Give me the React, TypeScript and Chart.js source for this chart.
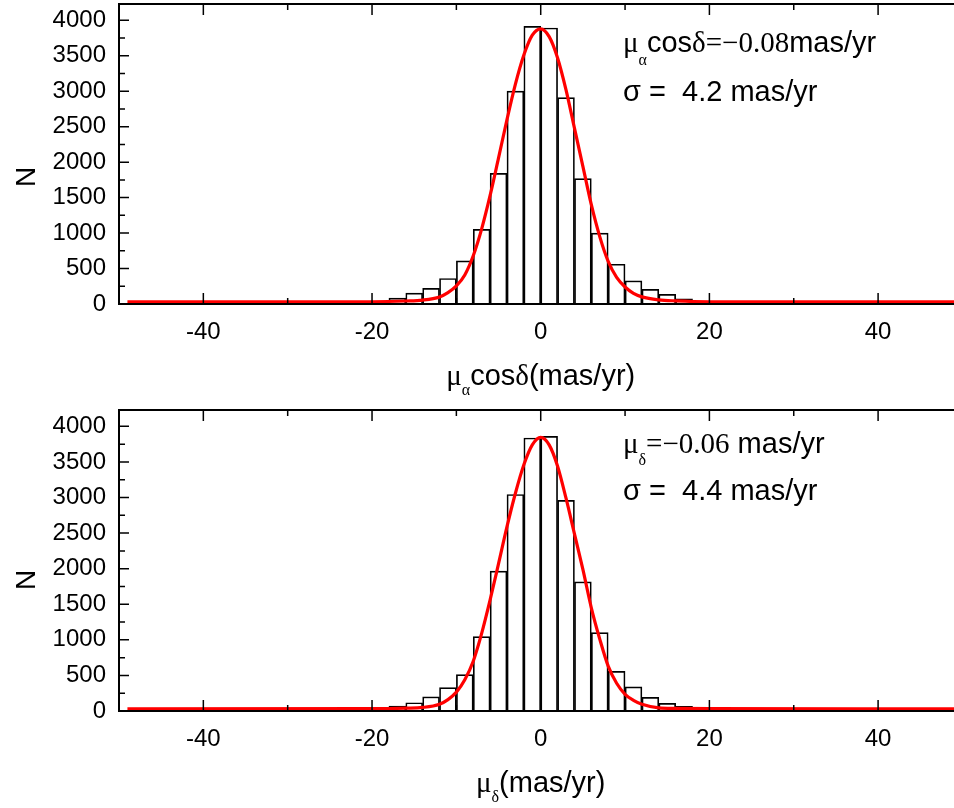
import React, { useEffect, useRef } from 'react';
import { Chart, registerables } from 'chart.js';

Chart.register(...registerables);

// ---- data ----
const binCenters = [-17, -15, -13, -11, -9, -7, -5, -3, -1, 1, 3, 5, 7, 9, 11, 13, 15, 17];
const countsRA = [84, 154, 220, 360, 608, 1053, 1843, 3003, 3916, 3892, 2910, 1768, 1001, 561, 327, 206, 136, 74];
const countsDec = [70, 116, 200, 330, 511, 1045, 1965, 3043, 3837, 3861, 2959, 1816, 1101, 557, 339, 191, 107, 64];

const fitX = [-49, -20, -16, -14, -12, -11, -10, -9, -8, -7, -6, -5, -4, -3, -2, -1, 0, 1, 2, 3, 4, 5, 6, 7, 8, 9, 10, 11, 12, 14, 16, 20, 50];
const fitRA = [30, 32, 42, 55, 100, 160, 255, 410, 680, 1060, 1530, 2060, 2600, 3100, 3510, 3790, 3880, 3770, 3470, 3020, 2480, 1940, 1400, 950, 600, 375, 240, 150, 100, 58, 44, 32, 30];
const fitDec = [30, 32, 40, 50, 95, 160, 265, 440, 700, 1090, 1560, 2070, 2590, 3060, 3460, 3740, 3845, 3740, 3440, 2990, 2490, 1990, 1450, 1010, 630, 390, 235, 150, 95, 45, 37, 32, 30];

const xMajorTicks = [-40, -20, 0, 20, 40];
const xMinorTicks = [-30, -10, 10, 30];
const yMajorTicks = [0, 500, 1000, 1500, 2000, 2500, 3000, 3500, 4000];
const yMinorTicks = [250, 750, 1250, 1750, 2250, 2750, 3250, 3750];

const SANS = "'Liberation Sans', Arial, sans-serif";
const SERIF = "'Liberation Serif', 'Times New Roman', serif";

type Part = { t: string; f: string; dy?: number };

function drawRich(ctx: CanvasRenderingContext2D, x: number, y: number, parts: Part[], align: 'left' | 'center' = 'left') {
  let w = 0;
  for (const p of parts) {
    ctx.font = p.f;
    w += ctx.measureText(p.t).width;
  }
  let cx = align === 'center' ? x - w / 2 : x;
  ctx.textAlign = 'left';
  ctx.textBaseline = 'alphabetic';
  for (const p of parts) {
    ctx.font = p.f;
    ctx.fillText(p.t, cx, y + (p.dy || 0));
    cx += ctx.measureText(p.t).width;
  }
}

interface PanelCfg {
  counts: number[];
  fit: number[];
  padTop: number;
  xScaleHeight: number;
  lines: { x: number; y: number; parts: Part[] }[];
  title: Part[];
  titleY: number;
  nY: number;
}

function makePlugin(cfg: PanelCfg) {
  return {
    id: 'frameAndText',
    afterDatasetsDraw(chart: any) {
      const { ctx, chartArea: a, scales } = chart;
      const xs = scales.x;
      const ys = scales.y;
      ctx.save();
      ctx.strokeStyle = '#000';
      ctx.lineWidth = 2;
      ctx.beginPath();
      ctx.moveTo(a.right, a.top);
      ctx.lineTo(a.left, a.top);
      ctx.lineTo(a.left, a.bottom);
      ctx.lineTo(a.right, a.bottom);
      ctx.stroke();
      ctx.lineWidth = 1.5;
      ctx.beginPath();
      const xt = (vals: number[], len: number) => {
        for (const v of vals) {
          const px = xs.getPixelForValue(v);
          ctx.moveTo(px, a.bottom);
          ctx.lineTo(px, a.bottom - len);
          ctx.moveTo(px, a.top);
          ctx.lineTo(px, a.top + len);
        }
      };
      const yt = (vals: number[], len: number) => {
        for (const v of vals) {
          const py = ys.getPixelForValue(v);
          ctx.moveTo(a.left, py);
          ctx.lineTo(a.left + len, py);
        }
      };
      xt(xMajorTicks, 11);
      xt(xMinorTicks, 6);
      yt(yMajorTicks, 10);
      yt(yMinorTicks, 6);
      ctx.stroke();
      ctx.restore();
    },
    afterDraw(chart: any) {
      const { ctx, scales } = chart;
      ctx.save();
      ctx.fillStyle = '#000';
      for (const l of cfg.lines) drawRich(ctx, l.x, l.y, l.parts);
      drawRich(ctx, scales.x.getPixelForValue(0), cfg.titleY, cfg.title, 'center');
      ctx.translate(27, cfg.nY);
      ctx.rotate(-Math.PI / 2);
      ctx.font = `28px ${SANS}`;
      ctx.textAlign = 'center';
      ctx.textBaseline = 'middle';
      ctx.fillText('N', 0, 0);
      ctx.restore();
    },
  };
}

function buildConfig(cfg: PanelCfg): any {
  const tickFont = { family: SANS, size: 24 };
  return {
    type: 'bar',
    data: {
      datasets: [
        {
          type: 'line',
          data: fitX.map((x, i) => ({ x, y: cfg.fit[i] })),
          borderColor: '#ff0000',
          borderWidth: 3.2,
          pointRadius: 0,
          cubicInterpolationMode: 'monotone',
          fill: false,
        },
        {
          type: 'bar',
          data: binCenters.map((x, i) => ({ x, y: cfg.counts[i] })),
          backgroundColor: '#ffffff',
          borderColor: '#000000',
          borderWidth: 1.7,
          barPercentage: 1,
          categoryPercentage: 1,
        },
      ],
    },
    options: {
      responsive: false,
      animation: false,
      devicePixelRatio: 1,
      layout: { padding: { top: cfg.padTop, left: 0, right: 0, bottom: 0 } },
      plugins: { legend: { display: false }, tooltip: { enabled: false }, title: { display: false } },
      scales: {
        x: {
          type: 'linear',
          min: -50,
          max: 49,
          offset: false,
          grid: { display: false, drawTicks: false, offset: false },
          border: { display: false },
          ticks: {
            font: tickFont,
            color: '#000',
            padding: 14,
            maxRotation: 0,
            autoSkip: false,
            callback: (v: number) => String(v),
          },
          afterBuildTicks: (s: any) => {
            s.ticks = xMajorTicks.map((v) => ({ value: v }));
          },
          afterFit: (s: any) => {
            s.height = cfg.xScaleHeight;
            s.paddingLeft = 0;
            s.paddingRight = 0;
          },
        },
        y: {
          type: 'linear',
          min: 0,
          max: 4230,
          grid: { display: false, drawTicks: false },
          border: { display: false },
          ticks: { font: tickFont, color: '#000', padding: 13, callback: (v: number) => String(v) },
          afterBuildTicks: (s: any) => {
            s.ticks = yMajorTicks.map((v) => ({ value: v }));
          },
          afterFit: (s: any) => {
            s.width = 119;
            s.paddingTop = 0;
            s.paddingBottom = 0;
          },
        },
      },
    },
    plugins: [makePlugin(cfg)],
  };
}

const topPanel: PanelCfg = {
  counts: countsRA,
  fit: fitRA,
  padTop: 4,
  xScaleHeight: 100,
  lines: [
    {
      x: 623,
      y: 52,
      parts: [
        { t: 'μ', f: `29px ${SERIF}` },
        { t: 'α', f: `16px ${SERIF}`, dy: 13 },
        { t: 'cos', f: `29px ${SANS}` },
        { t: 'δ=−0.08', f: `29px ${SERIF}` },
        { t: 'mas/yr', f: `29px ${SANS}` },
      ],
    },
    { x: 623, y: 101, parts: [{ t: 'σ =  4.2 mas/yr', f: `29px ${SANS}` }] },
  ],
  title: [
    { t: 'μ', f: `29px ${SERIF}` },
    { t: 'α', f: `16px ${SERIF}`, dy: 10 },
    { t: 'cos', f: `29px ${SANS}` },
    { t: 'δ', f: `29px ${SERIF}` },
    { t: '(mas/yr)', f: `29px ${SANS}` },
  ],
  titleY: 385,
  nY: 177,
};

const bottomPanel: PanelCfg = {
  counts: countsDec,
  fit: fitDec,
  padTop: 6,
  xScaleHeight: 97,
  lines: [
    {
      x: 623,
      y: 49,
      parts: [
        { t: 'μ', f: `29px ${SERIF}` },
        { t: 'δ', f: `16px ${SERIF}`, dy: 12 },
        { t: '=−0.06', f: `29px ${SERIF}` },
        { t: ' mas/yr', f: `29px ${SANS}` },
      ],
    },
    { x: 623, y: 96, parts: [{ t: 'σ =  4.4 mas/yr', f: `29px ${SANS}` }] },
  ],
  title: [
    { t: 'μ', f: `29px ${SERIF}` },
    { t: 'δ', f: `16px ${SERIF}`, dy: 10 },
    { t: '(mas/yr)', f: `29px ${SANS}` },
  ],
  titleY: 388,
  nY: 176,
};

function Panel({ cfg }: { cfg: PanelCfg }) {
  const ref = useRef<HTMLCanvasElement>(null);
  useEffect(() => {
    if (!ref.current) return;
    const chart = new Chart(ref.current, buildConfig(cfg));
    return () => chart.destroy();
  }, [cfg]);
  return <canvas ref={ref} width={954} height={404} style={{ display: 'block', width: 954, height: 404 }} />;
}

export default function App() {
  return (
    <div style={{ position: 'absolute', left: 0, top: 0, width: 954, height: 808, background: '#fff' }}>
      <Panel cfg={topPanel} />
      <Panel cfg={bottomPanel} />
    </div>
  );
}
